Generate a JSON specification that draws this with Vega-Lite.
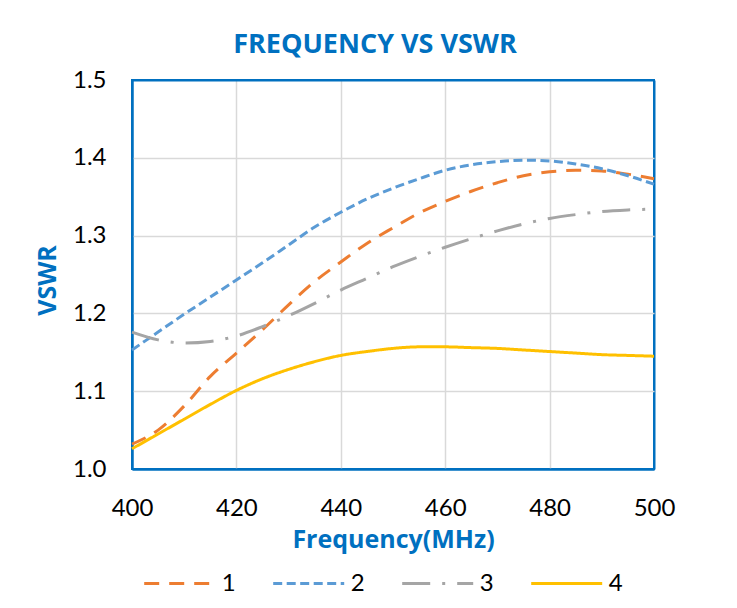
{
  "$schema": "https://vega.github.io/schema/vega-lite/v6.json",
  "width": 522,
  "height": 389,
  "autosize": {"type": "none"},
  "padding": {"left": 132, "top": 80, "right": 83, "bottom": 139},
  "background": "white",
  "title": {
    "text": "FREQUENCY VS VSWR",
    "color": "#0070C0",
    "font": "Open Sans",
    "fontSize": 27,
    "fontWeight": "bold",
    "anchor": "middle",
    "dx": -18,
    "offset": 9
  },
  "data": {
    "values": [
      {"f": 400, "s": "1", "v": 1.032}, {"f": 405, "s": "1", "v": 1.05}, {"f": 410, "s": "1", "v": 1.081}, {"f": 415, "s": "1", "v": 1.119}, {"f": 420, "s": "1", "v": 1.149}, {"f": 425, "s": "1", "v": 1.179}, {"f": 430, "s": "1", "v": 1.211}, {"f": 435, "s": "1", "v": 1.241}, {"f": 440, "s": "1", "v": 1.266}, {"f": 445, "s": "1", "v": 1.29}, {"f": 450, "s": "1", "v": 1.31}, {"f": 455, "s": "1", "v": 1.329}, {"f": 460, "s": "1", "v": 1.344}, {"f": 465, "s": "1", "v": 1.357}, {"f": 470, "s": "1", "v": 1.368}, {"f": 475, "s": "1", "v": 1.377}, {"f": 480, "s": "1", "v": 1.382}, {"f": 485, "s": "1", "v": 1.384}, {"f": 490, "s": "1", "v": 1.383}, {"f": 495, "s": "1", "v": 1.379}, {"f": 500, "s": "1", "v": 1.373},
      {"f": 400, "s": "2", "v": 1.153}, {"f": 405, "s": "2", "v": 1.176}, {"f": 410, "s": "2", "v": 1.199}, {"f": 415, "s": "2", "v": 1.221}, {"f": 420, "s": "2", "v": 1.243}, {"f": 425, "s": "2", "v": 1.265}, {"f": 430, "s": "2", "v": 1.288}, {"f": 435, "s": "2", "v": 1.311}, {"f": 440, "s": "2", "v": 1.33}, {"f": 445, "s": "2", "v": 1.347}, {"f": 450, "s": "2", "v": 1.361}, {"f": 455, "s": "2", "v": 1.373}, {"f": 460, "s": "2", "v": 1.384}, {"f": 465, "s": "2", "v": 1.391}, {"f": 470, "s": "2", "v": 1.395}, {"f": 475, "s": "2", "v": 1.397}, {"f": 480, "s": "2", "v": 1.396}, {"f": 485, "s": "2", "v": 1.392}, {"f": 490, "s": "2", "v": 1.386}, {"f": 495, "s": "2", "v": 1.377}, {"f": 500, "s": "2", "v": 1.366},
      {"f": 400, "s": "3", "v": 1.176}, {"f": 405, "s": "3", "v": 1.166}, {"f": 410, "s": "3", "v": 1.162}, {"f": 415, "s": "3", "v": 1.164}, {"f": 420, "s": "3", "v": 1.171}, {"f": 425, "s": "3", "v": 1.183}, {"f": 430, "s": "3", "v": 1.197}, {"f": 435, "s": "3", "v": 1.213}, {"f": 440, "s": "3", "v": 1.23}, {"f": 445, "s": "3", "v": 1.245}, {"f": 450, "s": "3", "v": 1.26}, {"f": 455, "s": "3", "v": 1.273}, {"f": 460, "s": "3", "v": 1.285}, {"f": 465, "s": "3", "v": 1.296}, {"f": 470, "s": "3", "v": 1.306}, {"f": 475, "s": "3", "v": 1.315}, {"f": 480, "s": "3", "v": 1.322}, {"f": 485, "s": "3", "v": 1.327}, {"f": 490, "s": "3", "v": 1.331}, {"f": 495, "s": "3", "v": 1.333}, {"f": 500, "s": "3", "v": 1.334},
      {"f": 400, "s": "4", "v": 1.026}, {"f": 405, "s": "4", "v": 1.045}, {"f": 410, "s": "4", "v": 1.064}, {"f": 415, "s": "4", "v": 1.083}, {"f": 420, "s": "4", "v": 1.101}, {"f": 425, "s": "4", "v": 1.116}, {"f": 430, "s": "4", "v": 1.128}, {"f": 435, "s": "4", "v": 1.138}, {"f": 440, "s": "4", "v": 1.146}, {"f": 445, "s": "4", "v": 1.151}, {"f": 450, "s": "4", "v": 1.155}, {"f": 455, "s": "4", "v": 1.157}, {"f": 460, "s": "4", "v": 1.157}, {"f": 465, "s": "4", "v": 1.156}, {"f": 470, "s": "4", "v": 1.155}, {"f": 475, "s": "4", "v": 1.153}, {"f": 480, "s": "4", "v": 1.151}, {"f": 485, "s": "4", "v": 1.149}, {"f": 490, "s": "4", "v": 1.147}, {"f": 495, "s": "4", "v": 1.146}, {"f": 500, "s": "4", "v": 1.145}
    ]
  },
  "mark": {"type": "line", "interpolate": "monotone", "strokeWidth": 3, "strokeCap": "butt"},
  "encoding": {
    "x": {
      "field": "f",
      "type": "quantitative",
      "scale": {"domain": [400, 500], "nice": false},
      "axis": {
        "title": "Frequency(MHz)",
        "values": [400, 420, 440, 460, 480, 500],
        "labelFlush": false,
        "labelPadding": 27,
        "titlePadding": 7,
        "gridColor": {"condition": {"test": "datum.value === 400 || datum.value === 500", "value": "#0070C0"}, "value": "#D9D9D9"},
        "gridWidth": {"condition": {"test": "datum.value === 400 || datum.value === 500", "value": 2}, "value": 1.5}
      }
    },
    "y": {
      "field": "v",
      "type": "quantitative",
      "scale": {"domain": [1.0, 1.5], "nice": false, "zero": false},
      "axis": {
        "title": "VSWR",
        "values": [1.0, 1.1, 1.2, 1.3, 1.4, 1.5],
        "format": ".1f",
        "labelPadding": 26,
        "titleX": -85,
        "titleY": 200,
        "titleBaseline": "middle",
        "titleAngle": 270,
        "gridColor": {"condition": {"test": "datum.value === 1 || datum.value === 1.5", "value": "#0070C0"}, "value": "#D9D9D9"},
        "gridWidth": {"condition": {"test": "datum.value === 1 || datum.value === 1.5", "value": 2}, "value": 1.5}
      }
    },
    "color": {
      "field": "s",
      "type": "nominal",
      "scale": {"domain": ["1", "2", "3", "4"], "range": ["#ED7D31", "#5B9BD5", "#A5A5A5", "#FFC000"]},
      "legend": {"title": null}
    },
    "strokeDash": {
      "field": "s",
      "type": "nominal",
      "scale": {"domain": ["1", "2", "3", "4"], "range": [[15, 10], [9, 4.5], [28, 12, 3, 12], [1, 0]]},
      "legend": {"title": null}
    }
  },
  "config": {
    "font": "Lato",
    "view": {"stroke": "#0070C0", "strokeWidth": 2},
    "axis": {
      "labelFont": "Lato",
      "labelFontSize": 24,
      "labelColor": "#000000",
      "titleFont": "Open Sans",
      "titleFontSize": 25,
      "titleFontWeight": "bold",
      "titleColor": "#0070C0",
      "ticks": false,
      "domainColor": "#0070C0",
      "domainWidth": 2
    },
    "legend": {
      "orient": "none",
      "legendX": 10.7,
      "legendY": 466.5,
      "direction": "horizontal",
      "symbolType": "stroke",
      "symbolSize": 5041,
      "symbolStrokeWidth": 3,
      "labelFont": "Lato",
      "labelFontSize": 24,
      "labelColor": "#000000",
      "labelOffset": 5,
      "columnPadding": 31,
      "padding": 0
    }
  }
}
